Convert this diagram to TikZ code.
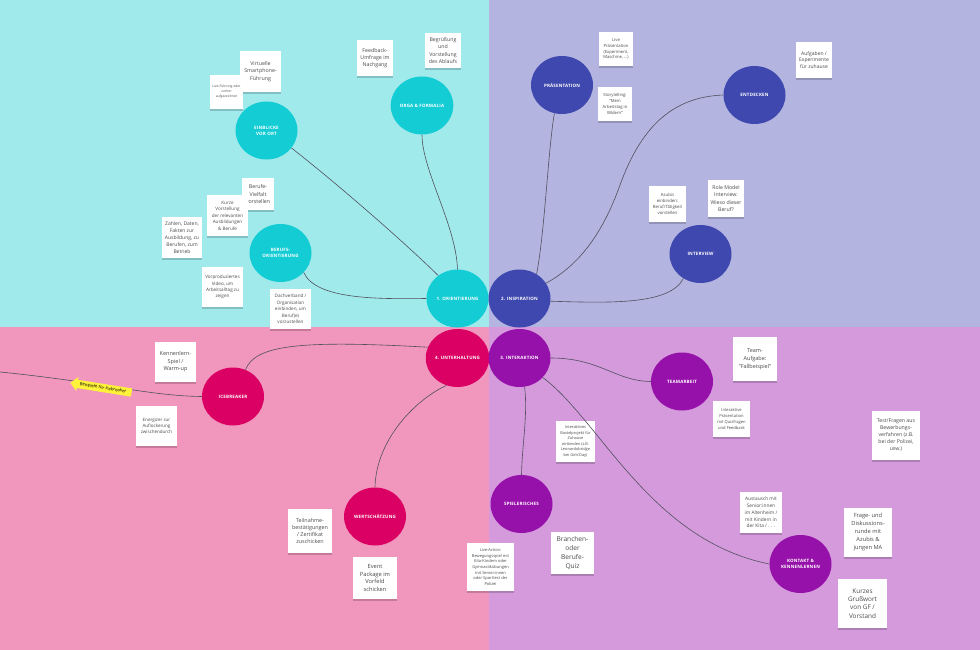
\documentclass[tikz,border=0pt]{standalone}
\usepackage{fontspec}
\setmainfont{Open Sans}
\newfontfamily\lblfont[LetterSpace=4]{Open Sans}
\usetikzlibrary{shapes.geometric,shapes.arrows,shadows}
\definecolor{bgTL}{HTML}{A1EAEC}
\definecolor{bgTR}{HTML}{B3B4DF}
\definecolor{bgBL}{HTML}{F196BD}
\definecolor{bgBR}{HTML}{D49ADC}
\definecolor{cCyan}{HTML}{13CCD4}
\definecolor{cBlue}{HTML}{3E48AE}
\definecolor{cMag}{HTML}{DB0064}
\definecolor{cPur}{HTML}{9611A9}
\definecolor{notetext}{HTML}{4A4A4A}
\definecolor{linkc}{HTML}{50505E}
\definecolor{arrowyellow}{HTML}{FFF23A}
\newcommand{\nfs}[2]{\fontsize{#1}{#2}\selectfont}
\begin{document}
\begin{tikzpicture}[x=1pt,y=-1pt,
  hub/.style={ellipse, minimum width=62, minimum height=58, inner sep=0pt, text=white, align=center,
    font=\lblfont\bfseries\fontsize{4.5}{6}\selectfont},
  note/.style={rectangle, fill=white, inner sep=1pt, align=center, text=notetext,
    drop shadow={shadow xshift=0pt, shadow yshift=-1.6pt, opacity=0.18, fill=black}},
  link/.style={draw=linkc, line width=0.6pt}]
\useasboundingbox (0,0) rectangle (980,650);
% quadrants
\fill[bgTL] (0,0) rectangle (489,327);
\fill[bgTR] (489,0) rectangle (980,327);
\fill[bgBL] (0,327) rectangle (489,650);
\fill[bgBR] (489,327) rectangle (980,650);

% hubs
\node[hub, fill=cCyan] (ori) at (457.5,298.5) {1. ORIENTIERUNG};
\node[hub, fill=cBlue] (insp) at (519.5,298.5) {2. INSPIRATION};
\node[hub, fill=cMag] (unt) at (457.5,358) {4. UNTERHALTUNG};
\node[hub, fill=cPur] (inter) at (519.5,358) {3. INTERAKTION};

\node[hub, fill=cCyan] (ein) at (266.5,130.5) {EINBLICKE\\VOR ORT};
\node[hub, fill=cCyan] (orga) at (422,105.5) {ORGA \& FORMALIA};
\node[hub, fill=cCyan] (ber) at (280.5,253) {BERUFS-\\ORIENTIERUNG};
\node[hub, fill=cBlue] (pre) at (562,85) {PRÄSENTATION};
\node[hub, fill=cBlue] (ent) at (754.5,95) {ENTDECKEN};
\node[hub, fill=cBlue] (iv) at (700.5,254) {INTERVIEW};
\node[hub, fill=cMag] (ice) at (233,396.5) {ICEBREAKER};
\node[hub, fill=cMag] (wert) at (375,516.5) {WERTSCHÄTZUNG};
\node[hub, fill=cPur] (spi) at (521.5,504) {SPIELERISCHES};
\node[hub, fill=cPur] (team) at (682,381.5) {TEAMARBEIT};
\node[hub, fill=cPur] (kon) at (800.5,564) {KONTAKT \&\\KENNENLERNEN};

% notes
\node[note, minimum width=41, minimum height=41, font=\nfs{5.3}{7.3}] (n1) at (260.5,71.5) {Virtuelle\\Smartphone-\\Führung};
\node[note, minimum width=33, minimum height=34, font=\nfs{3.3}{5}] (n2) at (226.5,92) {Live-Führung oder\\vorher\\aufgezeichnet};
\node[note, minimum width=36, minimum height=36, font=\nfs{5.3}{7.3}] (n3) at (375,58) {Feedback-\\Umfrage im\\Nachgang};
\node[note, minimum width=36, minimum height=35, font=\nfs{5.2}{7.5}] (n4) at (443,50.5) {Begrüßung\\und\\Vorstellung\\des Ablaufs};
\node[note, minimum width=32, minimum height=32, font=\nfs{5.3}{7.5}] (n5) at (258,194) {Berufe-\\Vielfalt\\vorstellen};
\node[note, minimum width=41, minimum height=41, font=\nfs{4.6}{6.5}] (n6) at (227.5,215.5) {Kurze\\Vorstellung\\der relevanten\\Ausbildungen\\\& Berufe};
\node[note, minimum width=40, minimum height=41, font=\nfs{5}{6.9}] (n7) at (182,237.5) {Zahlen, Daten,\\Fakten zur\\Ausbildung, zu\\Berufen, zum\\Betrieb};
\node[note, minimum width=41, minimum height=40, font=\nfs{4.6}{6.3}] (n8) at (222.5,287) {Vorproduziertes\\Video, um\\Arbeitsalltag zu\\zeigen};
\node[note, minimum width=41, minimum height=40, font=\nfs{4.6}{6.4}] (n9) at (290.5,309) {Dachverband /\\Organisation\\einbinden, um\\Beruf(e)\\vorzustellen};
\node[note, minimum width=34, minimum height=34, font=\nfs{4.2}{5.6}] (n10) at (616,49) {Live\\Präsentation\\(Experiment,\\Maschine, ...)};
\node[note, minimum width=34, minimum height=34, font=\nfs{4.2}{5.8}] (n11) at (615,104) {Storytelling:\\"Mein\\Arbeitstag in\\Bildern"};
\node[note, minimum width=36, minimum height=36, font=\nfs{5}{6.7}] (n12) at (814,60) {Aufgaben /\\Experimente\\für zuhause};
\node[note, minimum width=37, minimum height=36, font=\nfs{4.3}{6.1}] (n13) at (667.5,204) {Azubis\\einbinden:\\Beruf/Tätigkeit\\vorstellen};
\node[note, minimum width=36, minimum height=37, font=\nfs{5.2}{7.2}] (n14) at (726,198.5) {Role Model\\Interview:\\Wieso dieser\\Beruf?};
\node[note, minimum width=41, minimum height=40, font=\nfs{5.5}{7.5}] (n15) at (175.5,362) {Kennenlern-\\Spiel /\\Warm-up};
\node[note, minimum width=41, minimum height=40, font=\nfs{4.5}{6.2}] (n16) at (156.5,426) {Energizer zur\\Auflockerung\\zwischendurch};
\node[note, minimum width=44, minimum height=44, font=\nfs{5.4}{7.2}] (n17) at (310,531) {Teilnahme-\\bestätigungen\\/ Zertifikat\\zuschicken};
\node[note, minimum width=44, minimum height=42, font=\nfs{5.7}{7.6}] (n18) at (375,578) {Event\\Package im\\Vorfeld\\schicken};
\node[note, minimum width=39, minimum height=41, font=\nfs{3.9}{5.5}] (n19) at (575.5,441.5) {Interaktives\\Bastelprojekt für\\Zuhause\\einbinden (z.B.\\Leonardobridge\\bei Girls'Day)};
\node[note, minimum width=43, minimum height=42, font=\nfs{6.6}{9}] (n20) at (572.5,553) {Branchen-\\oder\\Berufe-\\Quiz};
\node[note, minimum width=47, minimum height=48, font=\nfs{4}{5.6}] (n21) at (490.5,567) {Live-Action:\\Bewegungsspiel mit\\Kita-Kindern oder\\Gymnastikübungen\\mit Senior:innen\\oder Sporttest der\\Polizei};
\node[note, minimum width=44, minimum height=44, font=\nfs{5.5}{7.8}] (n22) at (755,359) {Team-\\Aufgabe:\\"Fallbeispiel"};
\node[note, minimum width=37, minimum height=36, font=\nfs{4.1}{6}] (n23) at (731.5,419) {Interaktive\\Präsentation\\mit Quizfragen\\und Feedback};
\node[note, minimum width=48, minimum height=49, font=\nfs{5.2}{7}] (n24) at (896,435.5) {Test/Fragen aus\\Bewerbungs-\\verfahren (z.B.\\bei der Polizei,\\usw.)};
\node[note, minimum width=42, minimum height=41, font=\nfs{4.8}{6.8}] (n25) at (761,512.5) {Austausch mit\\Senior:innen\\im Altenheim /\\mit Kindern in\\der Kita / . . .};
\node[note, minimum width=48, minimum height=49, font=\nfs{5.7}{8}] (n26) at (868,532.5) {Frage- und\\Diskussions-\\runde mit\\Azubis \&\\jungen MA};
\node[note, minimum width=49, minimum height=49, font=\nfs{6.4}{8.4}] (n27) at (862.5,603.5) {Kurzes\\Grußwort\\von GF /\\Vorstand};

% connectors
\draw[link] (ein.-35) .. controls (335,182) and (402,240) .. (ori.130);
\draw[link] (orga.-90) .. controls (422,170) and (456,225) .. (ori.90);
\draw[link] (ber.-40) .. controls (316,300) and (380,299) .. (ori.180);
\draw[link] (pre.-105) .. controls (548,150) and (545,230) .. (insp.55);
\draw[link] (ent.180) .. controls (670,97) and (640,130) .. (620,185) .. controls (606,224) and (585,262) .. (insp.30);
\draw[link] (iv.-125) .. controls (670,305) and (610,303) .. (insp.-5);
\draw[link] (ice.65) .. controls (255,345) and (300,340) .. (unt.160);
\draw[link] (wert.90) .. controls (376,440) and (415,400) .. (unt.-112);
\draw[link] (spi.90) .. controls (522,445) and (528,415) .. (inter.-80);
\draw[link] (inter.0) .. controls (600,358) and (615,381) .. (team.180);
\draw[link] (inter.-40) .. controls (600,420) and (650,540) .. (kon.180);
\coordinate (leftedge) at (0,372);
\draw[link] (leftedge) .. controls (100,382) and (150,396) .. (ice.180);

% yellow arrow label
\node[single arrow, shape border rotate=180, fill=arrowyellow, rotate=-9, minimum height=62,
  single arrow head extend=3pt, inner xsep=1pt, inner ysep=1.8pt, font=\nfs{4.3}{5}, text=black]
  (arr) at (103,388) {Beispiele für Icebreaker};
\end{tikzpicture}
\end{document}
